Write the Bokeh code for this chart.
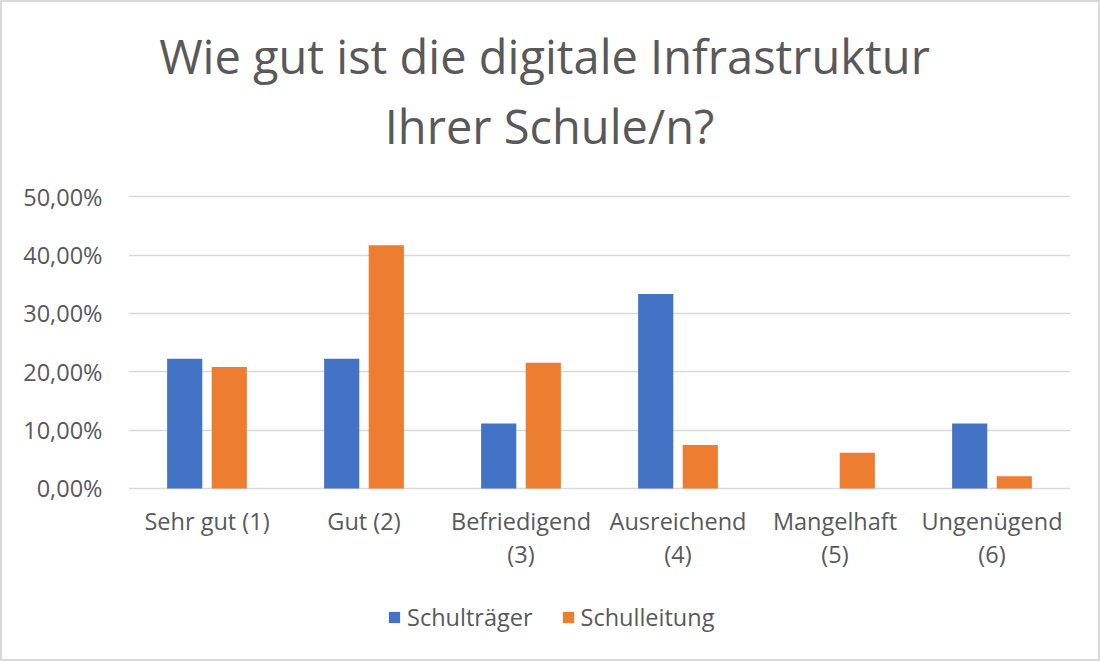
from bokeh.plotting import figure
from bokeh.models import (ColumnDataSource, FactorRange, Range1d, FixedTicker,
                          CustomJSTickFormatter, Label, Legend, LegendItem)
from bokeh.core.properties import value
from bokeh.transform import dodge
from bokeh.embed import file_html
from bokeh.resources import INLINE

categories = ["Sehr gut (1)", "Gut (2)", "Befriedigend (3)", "Ausreichend (4)",
              "Mangelhaft (5)", "Ungenügend (6)"]
cat_line1 = ["Sehr gut (1)", "Gut (2)", "Befriedigend", "Ausreichend",
             "Mangelhaft", "Ungenügend"]
cat_line2 = ["", "", "(3)", "(4)", "(5)", "(6)"]
schultraeger = [0.2222, 0.2222, 0.1111, 0.3333, 0.0, 0.1111]
schulleitung = [0.2083, 0.4167, 0.2153, 0.0743, 0.0611, 0.0208]
series_names = ["Schulträger", "Schulleitung"]
y_ticks = [0.0, 0.1, 0.2, 0.3, 0.4, 0.5]
title_lines = ["Wie gut ist die digitale Infrastruktur", "Ihrer Schule/n?"]

FONT = "Open Sans"
TXT = "#595959"
BLUE = "#4472C4"
ORANGE = "#ED7D31"
FS = "23.5px"

# layout (pixels, page coordinates); canvas sits inside a 2px CSS border
B = 2
W, H = 1100 - 2 * B, 661 - 2 * B
LEFT_X, RIGHT_X = 128 - B, 1066 - B
TOP_Y, ZERO_Y = 195 - B, 485 - B
px_per_unit = (ZERO_Y - TOP_Y) / max(y_ticks)
y_start = -(H - ZERO_Y) / px_per_unit
y_end = max(y_ticks) + TOP_Y / px_per_unit

source = ColumnDataSource(dict(cat=categories, a=schultraeger, b=schulleitung,
                               l1=cat_line1, l2=cat_line2))

p = figure(width=W, height=H, output_backend="svg", toolbar_location=None,
           x_range=FactorRange(*categories, range_padding=0),
           y_range=Range1d(y_start, y_end),
           min_border_left=LEFT_X, min_border_right=W - RIGHT_X,
           min_border_top=0, min_border_bottom=0)
p.styles = {"border": f"{B}px solid #d9d9d9", "box-sizing": "content-box"}
p.outline_line_color = None

r1 = p.vbar(x=dodge("cat", -0.142, range=p.x_range), top="a", width=0.224,
            source=source, fill_color=BLUE, line_color=None)
r2 = p.vbar(x=dodge("cat", 0.142, range=p.x_range), top="b", width=0.224,
            source=source, fill_color=ORANGE, line_color=None)

# category labels (two lines) below the 0 % line
p.text(x="cat", y=0, text="l1", source=source, y_offset=33,
       text_align="center", text_baseline="alphabetic",
       text_font=value(FONT), text_font_size=FS, text_color=TXT)
p.text(x="cat", y=0, text="l2", source=source, y_offset=66,
       text_align="center", text_baseline="alphabetic",
       text_font=value(FONT), text_font_size=FS, text_color=TXT)

# axes
p.xaxis.visible = False
p.xgrid.grid_line_color = None
p.ygrid.grid_line_color = "#d9d9d9"
p.ygrid.grid_line_width = 1.5
p.ygrid.ticker = FixedTicker(ticks=y_ticks)
ya = p.yaxis[0]
ya.ticker = FixedTicker(ticks=y_ticks)
ya.formatter = CustomJSTickFormatter(
    code="return (tick*100).toFixed(2).replace('.', ',') + '%';")
ya.axis_line_color = None
ya.major_tick_line_color = None
ya.minor_tick_line_color = None
ya.major_tick_out = 0
ya.major_tick_in = 0
ya.major_label_text_font = FONT
ya.major_label_text_color = TXT
ya.major_label_text_font_size = FS
ya.major_label_standoff = 26

# title (screen units relative to the frame's bottom-left corner)
p.add_layout(Label(x=544 - B - LEFT_X, y=H - (51 - B), x_units="screen",
                   y_units="screen", text=title_lines[0], text_align="center",
                   text_baseline="alphabetic", text_font=FONT,
                   text_font_size="47px", text_color=TXT))
p.add_layout(Label(x=549 - B - LEFT_X, y=H - (121 - B), x_units="screen",
                   y_units="screen", text=title_lines[1], text_align="center",
                   text_baseline="alphabetic", text_font=FONT,
                   text_font_size="47px", text_color=TXT))

legend = Legend(items=[LegendItem(label=series_names[0], renderers=[r1]),
                       LegendItem(label=series_names[1], renderers=[r2])],
                orientation="horizontal", location=(387 - B - LEFT_X, 32 - B),
                label_text_font=FONT, label_text_font_size=FS,
                label_text_color=TXT, glyph_width=14, glyph_height=14,
                label_standoff=6, spacing=28, padding=0, margin=0,
                border_line_color=None, background_fill_alpha=0)
p.add_layout(legend, "center")

open("out.html", "w").write(file_html(p, INLINE))
